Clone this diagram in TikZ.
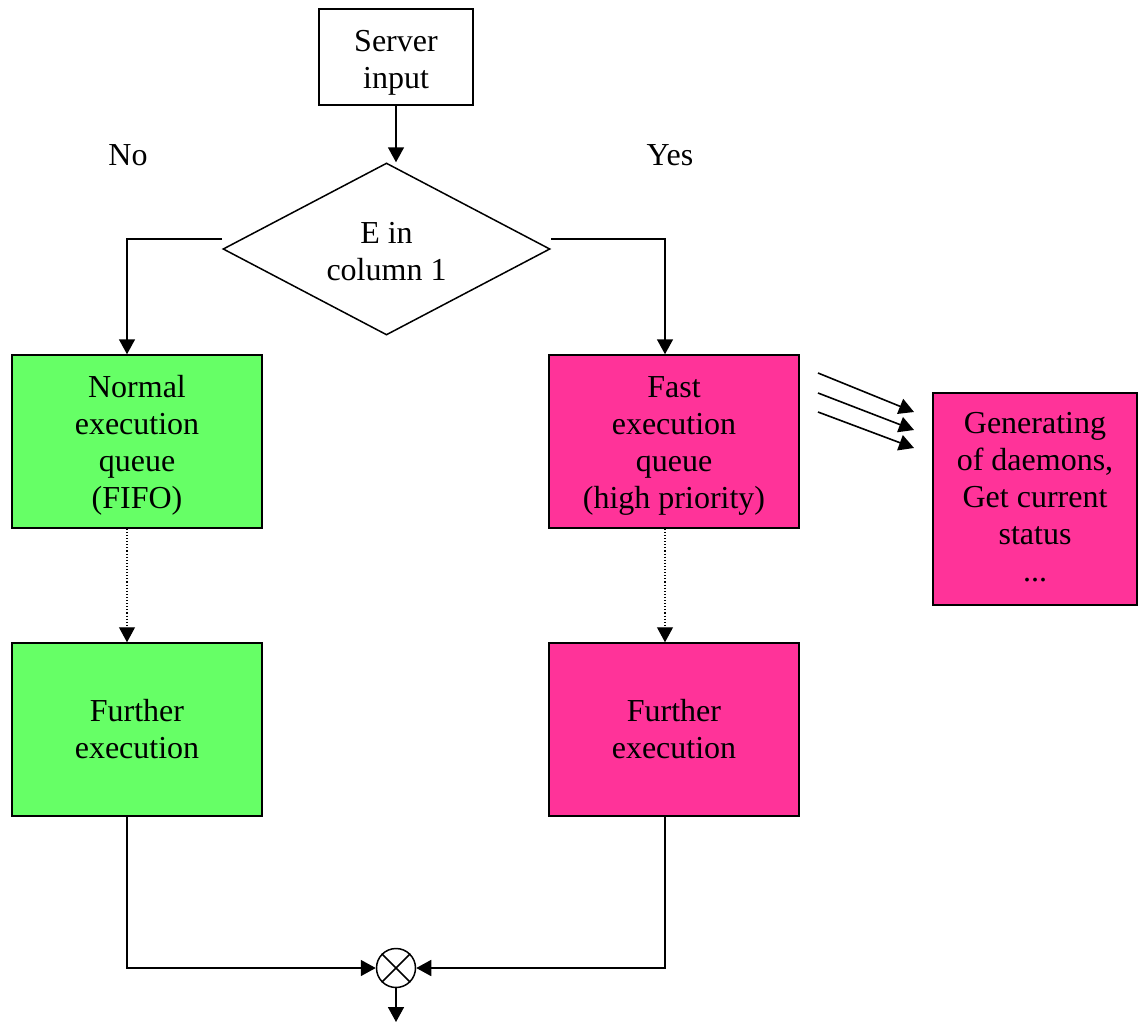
\documentclass[tikz,border=0pt]{standalone}
\usepackage{fontspec}
\setmainfont{Liberation Serif}
\usetikzlibrary{arrows.meta,shapes.geometric}
\definecolor{gfill}{HTML}{66FF66}
\definecolor{pfill}{HTML}{FF3399}
\newcommand{\topstrut}[1]{\rule{0pt}{#1}}
\newcommand{\botstrut}[1]{\rule[-#1]{0pt}{0pt}}
\begin{document}
\begin{tikzpicture}[x=1pt,y=-1pt,
  every node/.style={font=\fontsize{32}{37}\selectfont, align=center, inner sep=0pt},
  box/.style={draw, line width=1.5pt, rectangle},
  gbox/.style={box, fill=gfill, minimum width=250pt, minimum height=173pt},
  pbox/.style={box, fill=pfill, minimum width=250pt, minimum height=173pt},
  conn/.style={line width=1.6pt, -{Triangle[length=15pt,width=16pt]}},
  dotconn/.style={line width=1.1pt, dotted, -{Triangle[length=15pt,width=16pt]}},
  plain/.style={line width=1.5pt}]
\useasboundingbox (0,0) rectangle (1138,1023);
\node[box, minimum width=154pt, minimum height=96pt] (srv) at (396,57) {\topstrut{32pt}Server\\input};
\node[draw, diamond, shape aspect=1.9, line width=1.5pt, minimum width=327pt, minimum height=172pt] (dec) at (386.5,249) {\topstrut{27pt}E in\\column 1};
\node (no) at (128,155) {No};
\node (yes) at (670,155) {Yes};
\node[gbox] (nq) at (137,441.5) {\topstrut{29pt}Normal\\execution\\queue\\(FIFO)};
\node[gbox] (nf) at (137,729.5) {Further\\execution};
\node[pbox] (fq) at (674,441.5) {\topstrut{29pt}Fast\\execution\\queue\\(high priority)};
\node[pbox] (ff) at (674,729.5) {Further\\execution};
\node[pbox, minimum width=204pt, minimum height=212pt] (gen) at (1035,499) {Generating\\of daemons,\\Get current\\status\\...\botstrut{5pt}};
\node[draw, circle, line width=1.5pt, minimum size=39pt] (mix) at (396,968) {};
\draw[plain] (mix.north west) -- (mix.south east) (mix.north east) -- (mix.south west);
\coordinate (outp) at (396,1022);
\coordinate (a1s) at (818,373); \coordinate (a1e) at (914,412);
\coordinate (a2s) at (818,393); \coordinate (a2e) at (914,430);
\coordinate (a3s) at (818,412); \coordinate (a3e) at (914,448);
\coordinate (lstart) at (222,239);
\coordinate (rstart) at (551,239);
\draw[conn] (srv.south) -- (srv.south |- dec.north);
\draw[conn] (lstart) -| (nq.north -| 127,0);
\draw[conn] (rstart) -| (fq.north -| 665,0);
\draw[dotconn] (nq.south -| 127,0) -- (nf.north -| 127,0);
\draw[dotconn] (fq.south -| 665,0) -- (ff.north -| 665,0);
\draw[conn] (nf.south -| 127,0) |- (mix.west);
\draw[conn] (ff.south -| 665,0) |- (mix.east);
\draw[conn] (mix.south) -- (outp);
\draw[conn] (a1s) -- (a1e);
\draw[conn] (a2s) -- (a2e);
\draw[conn] (a3s) -- (a3e);
\end{tikzpicture}
\end{document}
